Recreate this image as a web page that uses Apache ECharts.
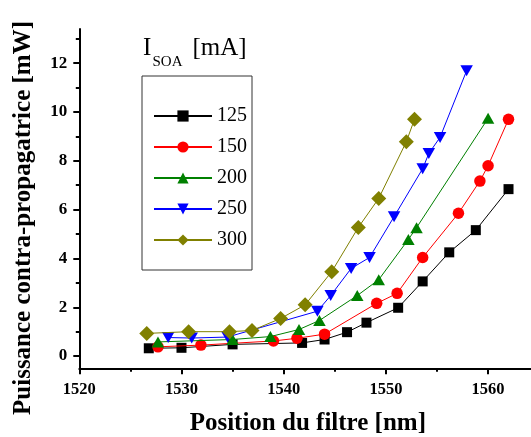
<!DOCTYPE html>
<html>
<head>
<meta charset="utf-8">
<script src="https://cdn.jsdelivr.net/npm/echarts@6/dist/echarts.min.js"></script>
<style>
html,body{margin:0;padding:0;background:#fff;}
#chart{width:531px;height:437px;}
</style>
</head>
<body>
<div id="chart"></div>
<script>
// ---- data ----
const seriesNames = ['125', '150', '200', '250', '300'];

const x125 = [1526.8, 1530.0, 1535.0, 1541.8, 1544.0, 1546.2, 1548.1, 1551.2, 1553.6, 1556.2, 1558.8, 1562.0];
const y125 = [0.32, 0.34, 0.48, 0.54, 0.68, 0.98, 1.37, 1.98, 3.06, 4.25, 5.16, 6.84];

const x150 = [1527.7, 1531.9, 1539.0, 1541.3, 1544.0, 1549.1, 1551.1, 1553.6, 1557.1, 1559.2, 1560.0, 1562.0];
const y150 = [0.38, 0.45, 0.62, 0.73, 0.90, 2.16, 2.57, 4.04, 5.85, 7.17, 7.80, 9.70];

const x200 = [1527.7, 1535.0, 1538.7, 1541.5, 1543.5, 1547.2, 1549.3, 1552.2, 1553.0, 1560.0];
const y200 = [0.58, 0.68, 0.80, 1.09, 1.46, 2.48, 3.13, 4.78, 5.26, 9.74];

const x250 = [1528.7, 1531.0, 1534.5, 1543.3, 1544.6, 1546.6, 1548.4, 1550.8, 1553.6, 1554.2, 1555.3, 1557.9];
const y250 = [0.76, 0.74, 0.78, 1.84, 2.48, 3.59, 4.04, 5.71, 7.68, 8.30, 8.96, 11.69];

const x300 = [1526.6, 1530.7, 1534.7, 1536.9, 1539.7, 1542.1, 1544.7, 1547.3, 1549.3, 1552.0, 1552.8];
const y300 = [0.93, 1.00, 1.00, 1.05, 1.54, 2.10, 3.46, 5.27, 6.46, 8.78, 9.70];

const xTicks = [1520, 1530, 1540, 1550, 1560];
const xMinorTicks = [1525, 1535, 1545, 1555];
const yTicks = [0, 2, 4, 6, 8, 10, 12];
const yMinorTicks = [1, 3, 5, 7, 9, 11, 13];

const xTitle = 'Position du filtre [nm]';
const yTitle = 'Puissance contra-propagatrice [mW]';
// ---------------------------------------

const xs = [x125, x150, x200, x250, x300];
const ys = [y125, y150, y200, y250, y300];
const colors = ['#000000', '#ff0000', '#008000', '#0000ff', '#808000'];
const symbols = ['rect', 'circle', 'triangle', 'triangle', 'diamond'];
const symbolSizes = [10, 11.5, [12.5, 11], [12.5, 11], [15, 15]];
const rotates = [0, 0, 0, 180, 0];

const serif = '"Liberation Serif", "Times New Roman", serif';

const series = seriesNames.map((name, i) => ({
  name: name,
  type: 'line',
  data: xs[i].map((x, k) => [x, ys[i][k]]),
  symbol: symbols[i],
  symbolSize: symbolSizes[i],
  symbolRotate: rotates[i],
  showAllSymbol: true,
  lineStyle: { color: colors[i], width: 1 },
  itemStyle: { color: colors[i] },
  emphasis: { disabled: true },
  z: 2 + i
}));

const XMIN = 1520, XMAX = 1564.2, YMIN = -0.5, YMAX = 13.4;
const plain = v => String(v);

const chart = echarts.init(document.getElementById('chart'), null, { renderer: 'canvas' });
chart.setOption({
  animation: false,
  backgroundColor: '#ffffff',
  grid: { left: 79.3, right: 0, top: 29, bottom: 68.7, containLabel: false },
  legend: {
    orient: 'vertical',
    left: 142,
    top: 76,
    padding: [30, 5, 20, 11],
    borderColor: '#333333',
    borderWidth: 1,
    itemWidth: 58,
    itemHeight: 14,
    itemGap: 11,
    data: seriesNames,
    textStyle: { fontFamily: serif, fontSize: 20, color: '#000' },
    selectedMode: false
  },
  xAxis: [
    {
      type: 'value', min: XMIN, max: XMAX, position: 'bottom',
      axisLine: { show: true, onZero: false, lineStyle: { color: '#000', width: 2 } },
      axisTick: { show: true, inside: false, length: 6, lineStyle: { color: '#000', width: 2 }, customValues: xTicks },
      axisLabel: { show: true, margin: 13, customValues: xTicks, formatter: plain, fontFamily: serif, fontWeight: 'bold', fontSize: 16.5, color: '#000' },
      splitLine: { show: false }
    },
    {
      type: 'value', min: XMIN, max: XMAX, position: 'bottom', offset: 0,
      axisLine: { show: false, onZero: false },
      axisTick: { show: true, inside: false, length: 3.5, lineStyle: { color: '#000', width: 2 }, customValues: xMinorTicks },
      axisLabel: { show: false },
      splitLine: { show: false }
    }
  ],
  yAxis: [
    {
      type: 'value', min: YMIN, max: YMAX, position: 'left',
      axisLine: { show: true, onZero: false, lineStyle: { color: '#000', width: 2 } },
      axisTick: { show: true, inside: false, length: 6, lineStyle: { color: '#000', width: 2 }, customValues: yTicks },
      axisLabel: { show: true, margin: 12, customValues: yTicks, formatter: plain, fontFamily: serif, fontWeight: 'bold', fontSize: 17, color: '#000' },
      splitLine: { show: false }
    },
    {
      type: 'value', min: YMIN, max: YMAX, position: 'left', offset: 0,
      axisLine: { show: false, onZero: false },
      axisTick: { show: true, inside: false, length: 3.5, lineStyle: { color: '#000', width: 2 }, customValues: yMinorTicks },
      axisLabel: { show: false },
      splitLine: { show: false }
    }
  ],
  graphic: [
    { type: 'text', x: 307.8, y: 424, style: { text: xTitle, font: 'bold 25px ' + serif, fill: '#000', align: 'center', verticalAlign: 'middle' } },
    { type: 'text', x: 24, y: 218, rotation: Math.PI / 2, style: { text: yTitle, font: 'bold 25px ' + serif, fill: '#000', align: 'center', verticalAlign: 'middle' } },
    { type: 'text', x: 143, y: 48.5, style: { text: 'I', font: '25px ' + serif, fill: '#000', align: 'left', verticalAlign: 'middle' } },
    { type: 'text', x: 152.5, y: 62, style: { text: 'SOA', font: '15px ' + serif, fill: '#000', align: 'left', verticalAlign: 'middle' } },
    { type: 'text', x: 192.5, y: 48.5, style: { text: '[mA]', font: '25px ' + serif, fill: '#000', align: 'left', verticalAlign: 'middle' } }
  ],
  series: series
});
</script>
</body>
</html>
